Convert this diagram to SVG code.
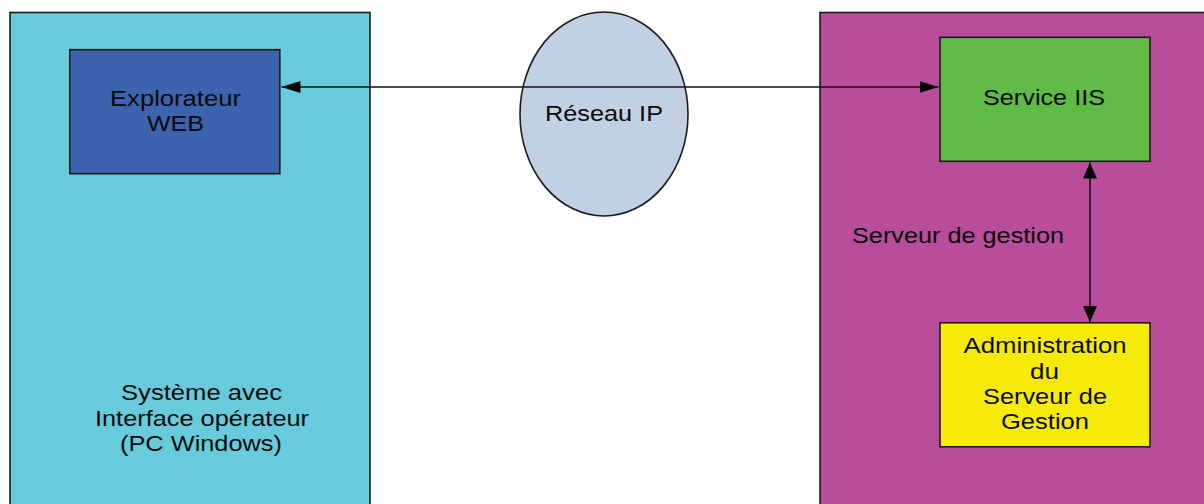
<svg xmlns="http://www.w3.org/2000/svg" width="1204" height="504" viewBox="0 0 1204 504">
<style>
.b{stroke:#1c1c1c;stroke-width:1.6}
text{font-family:"Liberation Sans",Arial,sans-serif;font-size:22.500px;fill:#0a0a0a;text-anchor:middle}
.c{fill:none;stroke:#111;stroke-width:1.6}
</style>
<defs>
<marker id="h" viewBox="0 0 19 12" refX="19" refY="6" markerWidth="19" markerHeight="12" markerUnits="userSpaceOnUse" orient="auto-start-reverse"><path d="M0 0L19 6L0 12Z" fill="#050505"/></marker>
<marker id="v" viewBox="0 0 16 14" refX="16" refY="7" markerWidth="16" markerHeight="14" markerUnits="userSpaceOnUse" orient="auto-start-reverse"><path d="M0 0L16 7L0 14Z" fill="#050505"/></marker>
</defs>
<rect width="1204" height="504" fill="#fff"/>
<g id="systeme"><rect class="b" x="10" y="12.500" width="360" height="500" fill="#67cbdc"/>
<text x="201.500" y="399.500" textLength="161" lengthAdjust="spacingAndGlyphs">Système avec</text>
<text x="202" y="425.500" textLength="214" lengthAdjust="spacingAndGlyphs">Interface opérateur</text>
<text x="201" y="450.500" textLength="162" lengthAdjust="spacingAndGlyphs">(PC Windows)</text></g>
<g id="serveur"><rect class="b" x="820" y="12.500" width="400" height="500" fill="#b74d9b"/>
<text x="958" y="242.500" textLength="212" lengthAdjust="spacingAndGlyphs">Serveur de gestion</text></g>
<g id="explorateur"><rect class="b" x="69.800" y="49.700" width="210" height="124" fill="#3e63ae"/>
<text x="175.500" y="105.500" textLength="131" lengthAdjust="spacingAndGlyphs">Explorateur</text>
<text x="175.500" y="130.500" textLength="57" lengthAdjust="spacingAndGlyphs">WEB</text></g>
<g id="reseau"><ellipse class="b" cx="604" cy="114" rx="84" ry="102" fill="#c2d0e3"/>
<text x="604" y="120.500" textLength="118" lengthAdjust="spacingAndGlyphs">Réseau IP</text></g>
<g id="iis"><rect class="b" x="940" y="37.300" width="210" height="124" fill="#5fbb46"/>
<text x="1044" y="105" textLength="122" lengthAdjust="spacingAndGlyphs">Service IIS</text></g>
<g id="admin"><rect class="b" x="940" y="322.800" width="210" height="124" fill="#f5ea0a"/>
<text x="1045" y="352.500" textLength="163" lengthAdjust="spacingAndGlyphs">Administration</text>
<text x="1044.500" y="378.500" textLength="29" lengthAdjust="spacingAndGlyphs">du</text>
<text x="1045" y="403.500" textLength="124" lengthAdjust="spacingAndGlyphs">Serveur de</text>
<text x="1045" y="429" textLength="88" lengthAdjust="spacingAndGlyphs">Gestion</text></g>
<g id="connecteurs">
<path class="c" d="M281.500 87H938.500" marker-start="url(#h)" marker-end="url(#h)"/>
<path class="c" d="M1090 162.500V322" marker-start="url(#v)" marker-end="url(#v)"/>
</g>
</svg>
